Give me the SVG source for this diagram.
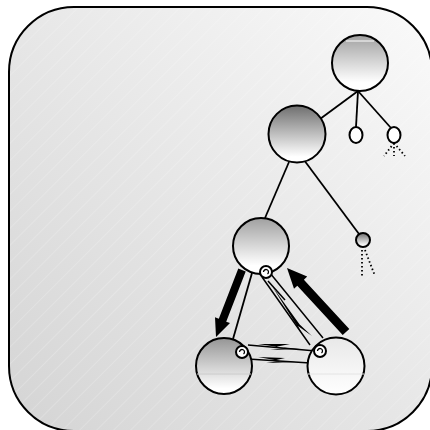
<svg xmlns="http://www.w3.org/2000/svg" width="430" height="430" viewBox="0 0 430 430">
<defs>
<linearGradient id="bg" x1="1" y1="0" x2="0" y2="1">
<stop offset="0" stop-color="#fafafa"/>
<stop offset="1" stop-color="#d4d4d4"/>
</linearGradient>
<pattern id="stripes" width="12" height="12" patternUnits="userSpaceOnUse" patternTransform="rotate(45)">
<line x1="0" y1="0" x2="0" y2="12" stroke="#ffffff" stroke-opacity="0.35" stroke-width="1"/>
</pattern>
<linearGradient id="gDark" x1="0" y1="0" x2="0" y2="1">
<stop offset="0" stop-color="#6e6e6e"/>
<stop offset="0.9" stop-color="#ffffff"/>
</linearGradient>
<linearGradient id="gMid" x1="0" y1="0" x2="0" y2="1">
<stop offset="0" stop-color="#959595"/>
<stop offset="0.9" stop-color="#ffffff"/>
</linearGradient>
<linearGradient id="gLight" x1="0" y1="0" x2="0" y2="1">
<stop offset="0" stop-color="#a0a0a0"/>
<stop offset="0.85" stop-color="#ffffff"/>
</linearGradient>
<linearGradient id="gPale" x1="0" y1="0" x2="0" y2="1">
<stop offset="0" stop-color="#e8e8e8"/>
<stop offset="1" stop-color="#ffffff"/>
</linearGradient>
</defs>
<style>
.n{stroke:#000;stroke-width:2}
.e{stroke:#000;stroke-width:1.8;fill:none}
.d{stroke:#000;stroke-width:1.8;fill:none;stroke-dasharray:1.5 2.5}
.a{fill:#000;stroke:none}
.t{stroke:#000;stroke-width:1.5;fill:none}
.r{fill:#fff;stroke:#000;stroke-width:2}
.s{fill:none;stroke:#000;stroke-width:1.3}
</style>
<rect x="9" y="7" width="423" height="424" rx="65" fill="url(#bg)" stroke="#000" stroke-width="2"/>
<rect x="10" y="8" width="421" height="422" rx="64" fill="url(#stripes)"/>
<g id="connectors">
<line class="e" x1="358" y1="91" x2="320" y2="119"/>
<line class="e" x1="358" y1="91" x2="356" y2="127"/>
<line class="e" x1="358" y1="91" x2="391" y2="128"/>
<line class="d" x1="394" y1="143" x2="384" y2="156"/>
<line class="d" x1="394" y1="143" x2="394" y2="156"/>
<line class="d" x1="394" y1="143" x2="405" y2="156"/>
<line class="e" x1="289" y1="162" x2="265" y2="218"/>
<line class="e" x1="304" y1="160" x2="359" y2="234"/>
<line class="d" x1="362" y1="250" x2="362" y2="276"/>
<line class="d" x1="365" y1="250" x2="375" y2="276"/>
<line class="e" x1="252" y1="273" x2="233" y2="339"/>
<polygon class="a" points="238.3,268.6 245.7,271.5 226.2,321.7 230,323.1 216,337 215,317.3 218.8,318.8"/>
<polygon class="a" points="349.3,329 303.9,279.7 307.2,276.6 287,268 294,288.8 297.3,285.8 342.7,335"/>
<path class="t" d="M262,277 L310,345 M270,273 L323,338"/>
<path class="a" d="M272,286 L300,325 L297,322 L312,336 L298,326 L302,334 Z"/>
<path class="t" d="M268,281 L285,300"/>
<path class="t" d="M248,345 L316,351 M248,359 L310,363"/>
<path class="a" d="M258,344 L290,344 L275,347 L300,349 L270,350 L285,348 Z"/>
<path class="a" d="M258,357 L285,358 L272,361 L296,362 L266,363 L280,361 Z"/>
</g>
<g id="top">
<circle class="n" cx="360" cy="63" r="28" fill="url(#gLight)"/>
<line x1="346" y1="41" x2="374" y2="41" stroke="#fff" stroke-width="1"/>
</g>
<g id="leaf1"><ellipse class="n" cx="356" cy="135" rx="6.5" ry="8" fill="#fff"/></g>
<g id="leaf2"><ellipse class="n" cx="394" cy="135" rx="6.5" ry="8" fill="#fff"/></g>
<g id="node2"><circle class="n" cx="297" cy="134" r="28.5" fill="url(#gDark)"/></g>
<g id="leaf3"><circle class="n" cx="363" cy="240" r="7" fill="url(#gDark)"/></g>
<g id="node3"><circle class="n" cx="261" cy="246" r="28" fill="url(#gLight)"/></g>
<g id="bl">
<circle class="n" cx="224" cy="366" r="28" fill="url(#gMid)"/>
<line x1="197" y1="374" x2="251" y2="374" stroke="#ccc" stroke-width="1"/>
</g>
<g id="br">
<circle class="n" cx="336" cy="366" r="28.5" fill="url(#gPale)"/>
<line x1="308" y1="374" x2="364" y2="374" stroke="#e4e4e4" stroke-width="1"/>
</g>
<g id="rings">
<circle class="r" cx="266" cy="272" r="6"/>
<path class="s" d="M263.5,272 a2.5,2.5 0 1 1 4,2"/>
<circle class="r" cx="242" cy="352" r="6"/>
<path class="s" d="M239.5,352 a2.5,2.5 0 1 1 4,2"/>
<circle class="r" cx="320" cy="351" r="6"/>
<path class="s" d="M317.5,351 a2.5,2.5 0 1 1 4,2"/>
</g>
</svg>
